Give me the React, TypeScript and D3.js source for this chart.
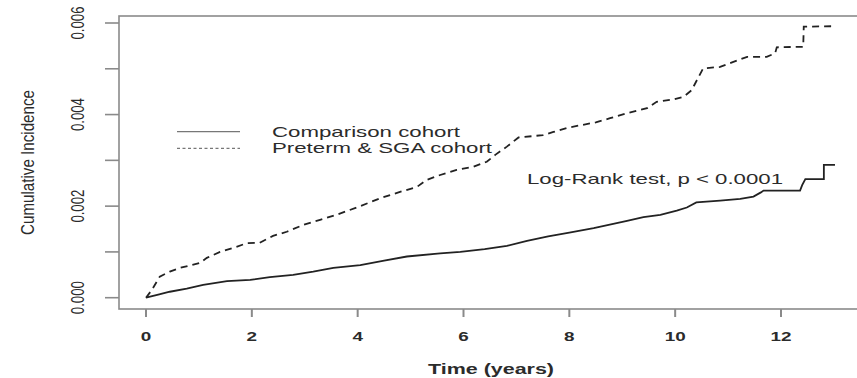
import React, { useEffect } from "react";
import * as d3 from "d3";

// Cumulative incidence (step estimates) for each cohort, time in years
const comparisonTimes = [
  0, 0.25, 0.45, 0.77, 1.08, 1.53, 1.97, 2.34, 2.78, 3.16, 3.54, 4.05, 4.5, 4.93,
  5.56, 5.94, 6.4, 6.82, 7.2, 7.6, 8.0, 8.46, 9.09, 9.4, 9.72, 10.03, 10.22, 10.4,
  10.85, 11.23, 11.48, 11.62, 11.67, 12.36, 12.4, 12.46, 12.81, 12.81, 13.02,
];
const comparisonValues = [
  0, 0.00007, 0.00013, 0.0002, 0.00028, 0.00036, 0.00039, 0.00045, 0.0005, 0.00057,
  0.00065, 0.00071, 0.00081, 0.0009, 0.00097, 0.001, 0.00106, 0.00113, 0.00124,
  0.00134, 0.00142, 0.00152, 0.00168, 0.00176, 0.00181, 0.0019, 0.00197, 0.00208,
  0.00212, 0.00216, 0.00221, 0.0023, 0.00234, 0.00234, 0.00246, 0.00259, 0.00259,
  0.0029, 0.0029,
];

const pretermTimes = [
  0, 0.11, 0.26, 0.45, 0.64, 1.02, 1.15, 1.4, 1.71, 1.9, 2.15, 2.4, 2.66, 2.97, 3.29,
  3.6, 4.05, 4.42, 4.8, 5.12, 5.3, 5.56, 5.87, 6.19, 6.44, 6.6, 6.82, 7.04, 7.5, 7.7,
  8.0, 8.5, 8.77, 9.09, 9.47, 9.65, 9.97, 10.16, 10.31, 10.41, 10.53, 10.85, 11.1,
  11.36, 11.73, 11.89, 11.92, 12.42, 12.43, 12.98,
];
const pretermValues = [
  0, 0.00017, 0.00046, 0.00057, 0.00065, 0.00076, 0.00087, 0.001, 0.00111, 0.00119,
  0.0012, 0.00135, 0.00144, 0.00159, 0.0017, 0.00181, 0.002, 0.00217, 0.00231,
  0.00242, 0.00257, 0.00268, 0.00279, 0.00286, 0.00297, 0.00312, 0.0033, 0.0035,
  0.00355, 0.00362, 0.00372, 0.00383, 0.00392, 0.00403, 0.00414, 0.00428, 0.00433,
  0.00439, 0.00453, 0.00475, 0.00501, 0.00504, 0.00515, 0.00526, 0.00526, 0.00534,
  0.00547, 0.00548, 0.00592, 0.00593,
];

const xTicks = [0, 2, 4, 6, 8, 10, 12];
const yTicks = [0, 0.001, 0.002, 0.003, 0.004, 0.005, 0.006];
const yLabelTicks = ["0.000", "0.002", "0.004", "0.006"];

const seriesNames = ["Comparison cohort", "Preterm & SGA cohort"];
const testLabel = "Log-Rank test, p < 0.0001";
const xTitle = "Time (years)";
const yTitle = "Cumulative Incidence";

const W = 857;
const H = 378;
const FONT = "'Liberation Sans', Arial, Helvetica, sans-serif";

const box = { left: 119, top: 16, bottom: 309, right: 866 };

const x = d3.scaleLinear().domain([0, 12]).range([146, 781]);
const y = d3.scaleLinear().domain([0, 0.006]).range([297.7, 23]);

const line = d3
  .line<[number, number]>()
  .x((d) => x(d[0]))
  .y((d) => y(d[1]))
  .curve(d3.curveLinear);

const zip = (ts: number[], vs: number[]): [number, number][] =>
  ts.map((t, i) => [t, vs[i]]);

export default function App() {
  useEffect(() => {
    document.body.style.margin = "0";
  }, []);

  const axisColor = "#8a8a8a";
  const textColor = "#2b2b2b";

  return (
    <svg
      width={W}
      height={H}
      viewBox={`0 0 ${W} ${H}`}
      style={{ position: "absolute", left: 0, top: 0, background: "#fff" }}
    >
      <rect x={0} y={0} width={W} height={H} fill="#fff" />

      {/* plot frame */}
      <rect
        x={box.left}
        y={box.top}
        width={box.right - box.left}
        height={box.bottom - box.top}
        fill="none"
        stroke={axisColor}
        strokeWidth={1.6}
      />

      {/* y axis ticks and labels */}
      {yTicks.map((v) => (
        <line
          key={`yt${v}`}
          x1={105}
          x2={box.left}
          y1={y(v)}
          y2={y(v)}
          stroke={axisColor}
          strokeWidth={1.6}
        />
      ))}
      {yLabelTicks.map((s) => (
        <text
          key={`yl${s}`}
          transform={`translate(83.5, ${y(+s)}) scale(1.4,1) rotate(-90)`}
          textAnchor="middle"
          fontFamily={FONT}
          fontSize={13}
          fill={textColor}
          textLength={33}
          lengthAdjust="spacingAndGlyphs"
        >
          {s}
        </text>
      ))}
      <text
        transform={`translate(33.5, 162.5) scale(1.35,1) rotate(-90)`}
        textAnchor="middle"
        fontFamily={FONT}
        fontSize={14}
        fill={textColor}
        textLength={145}
        lengthAdjust="spacingAndGlyphs"
      >
        {yTitle}
      </text>

      {/* x axis ticks and labels */}
      {xTicks.map((t) => (
        <line
          key={`xt${t}`}
          x1={x(t)}
          x2={x(t)}
          y1={box.bottom}
          y2={317}
          stroke={axisColor}
          strokeWidth={2}
        />
      ))}
      {xTicks.map((t) => (
        <text
          key={`xl${t}`}
          transform={`translate(${x(t)}, 340.5) scale(1.4,1)`}
          textAnchor="middle"
          fontFamily={FONT}
          fontSize={13.5}
          fontWeight="bold"
          fill={textColor}
        >
          {t}
        </text>
      ))}
      <text
        x={491}
        y={374}
        textAnchor="middle"
        fontFamily={FONT}
        fontSize={14}
        fontWeight="bold"
        fill={textColor}
        textLength={126}
        lengthAdjust="spacingAndGlyphs"
      >
        {xTitle}
      </text>

      {/* cumulative incidence curves */}
      <path
        d={line(zip(comparisonTimes, comparisonValues)) || ""}
        fill="none"
        stroke="#222"
        strokeWidth={1.8}
        strokeLinejoin="miter"
      />
      <path
        d={line(zip(pretermTimes, pretermValues)) || ""}
        fill="none"
        stroke="#222"
        strokeWidth={1.8}
        strokeDasharray="7,5"
      />

      {/* legend */}
      <line x1={177} x2={240} y1={131.7} y2={131.7} stroke="#777" strokeWidth={1.2} />
      <line
        x1={177}
        x2={240}
        y1={148.3}
        y2={148.3}
        stroke="#777"
        strokeWidth={1.2}
        strokeDasharray="3,2.5"
      />
      <text
        x={272}
        y={136.8}
        fontFamily={FONT}
        fontSize={15}
        fill={textColor}
        textLength={188}
        lengthAdjust="spacingAndGlyphs"
      >
        {seriesNames[0]}
      </text>
      <text
        x={272}
        y={153.3}
        fontFamily={FONT}
        fontSize={15}
        fill={textColor}
        textLength={220}
        lengthAdjust="spacingAndGlyphs"
      >
        {seriesNames[1]}
      </text>

      <text
        x={527}
        y={183.5}
        fontFamily={FONT}
        fontSize={15}
        fill={textColor}
        textLength={256}
        lengthAdjust="spacingAndGlyphs"
      >
        {testLabel}
      </text>
    </svg>
  );
}
